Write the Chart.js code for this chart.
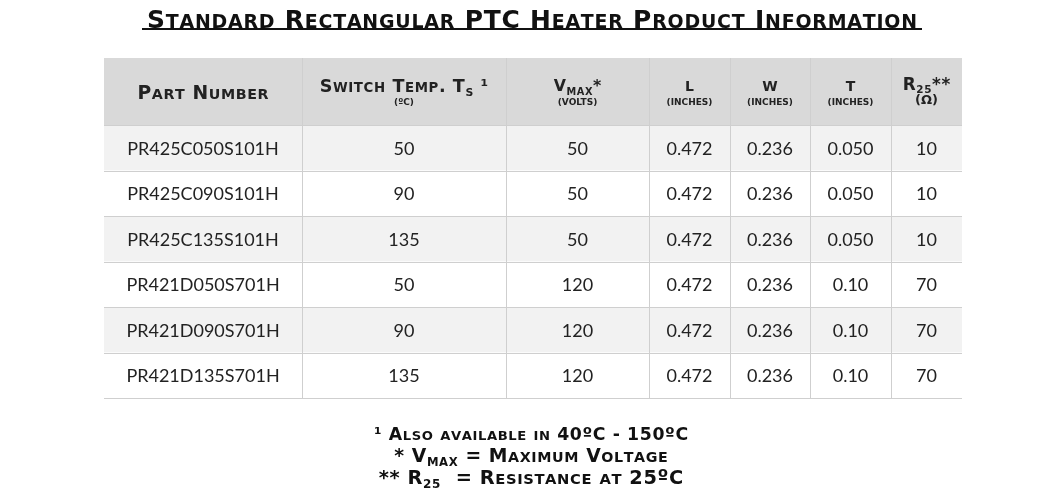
<!DOCTYPE html>
<html><head><meta charset="utf-8">
<script src="https://cdn.jsdelivr.net/npm/chart.js@4"></script>
<style>html,body{margin:0;padding:0;background:#fff}#c{display:block}</style>
</head><body>
<div style="width:1061px;height:495px"><canvas id="c"></canvas></div>
<script>
const partNumbers=["PR425C050S101H","PR425C090S101H","PR425C135S101H","PR421D050S701H","PR421D090S701H","PR421D135S701H"];
const switchTemp=["50","90","135","50","90","135"];
const vmax=["50","50","50","120","120","120"];
const lengthIn=["0.472","0.472","0.472","0.472","0.472","0.472"];
const widthIn=["0.236","0.236","0.236","0.236","0.236","0.236"];
const thickIn=["0.050","0.050","0.050","0.10","0.10","0.10"];
const r25=["10","10","10","70","70","70"];
const columns=[partNumbers,switchTemp,vmax,lengthIn,widthIn,thickIn,r25];
const colEdges=[0,198,402,545,626,706,787,858];
const title="Standard Rectangular PTC Heater Product Information";
const footnotes=[[["¹ Also available in 40ºC - 150ºC",0]],[["* V",0],["max",1],[" = Maximum Voltage",0]],[["** R",0],["25",1],["  = Resistance at 25ºC",0]]];
const SC="DejaVu Sans";
const BODY="Lato, 'Open Sans', sans-serif";

// fake small caps: split into runs of {text, size, dy}
function runs(segs,size){
  const out=[];
  segs.forEach(s=>{
    for(const ch of s[0]){
      const low=ch!==ch.toUpperCase();
      let sz=s[1]?size*0.62:(low?size*0.76:size);
      out.push({t:ch.toUpperCase(),sz,dy:s[1]?size*0.22:(low?size*0.12:0)});
    }
  });
  return out;
}
function measure(ctx,rs,sp){let w=0;rs.forEach(r=>{ctx.font=`bold ${r.sz}px ${SC}`;w+=ctx.measureText(r.t).width+sp;});return w-sp;}
function drawSC(ctx,segs,cx,y,size,target,sp=0.6){
  let rs=runs(segs,size);
  if(target){const w=measure(ctx,rs,sp);size=size*target/w;rs=runs(segs,size);}
  const w=measure(ctx,rs,sp);let x=cx-w/2;ctx.textAlign='left';ctx.textBaseline='alphabetic';
  const base=y+size*0.36;
  rs.forEach(r=>{ctx.font=`bold ${r.sz}px ${SC}`;ctx.fillText(r.t,x,base+(r.dy>size*0.15?r.dy-size*0.2+size*0.2:0));x+=ctx.measureText(r.t).width+sp;});
  return w;
}
const tablePlugin={id:'table',beforeDatasetsDraw(chart){
  const ctx=chart.ctx,xs=chart.scales.x,ys=chart.scales.y,ca=chart.chartArea;
  const rowH=ys.getPixelForValue(1)-ys.getPixelForValue(0);
  const X=colEdges.map(v=>xs.getPixelForValue(v));
  ctx.save();
  ctx.fillStyle='#111';
  drawSC(ctx,[[title,0]],532,19,20,780,0.8);
  ctx.fillRect(142,28,780,2);
  const hTop=58;
  ctx.fillStyle='#d9d9d9';ctx.fillRect(X[0],hTop,X[7]-X[0],ca.top-hTop);
  partNumbers.forEach((p,i)=>{
    const t=ys.getPixelForValue(i)-rowH/2;
    ctx.fillStyle=i%2===0?'#f2f2f2':'#ffffff';
    ctx.fillRect(X[0],t,X[7]-X[0],rowH);
    ctx.fillStyle='#222';ctx.font=`18px ${BODY}`;ctx.textAlign='center';ctx.textBaseline='middle';
    columns.forEach((col,c)=>ctx.fillText(col[i],(X[c]+X[c+1])/2,ys.getPixelForValue(i)+1));
  });
  ctx.strokeStyle='#cfcfcf';ctx.lineWidth=1;
  for(let i=0;i<=partNumbers.length;i++){const y=Math.round(ca.top+i*rowH)+0.5;ctx.beginPath();ctx.moveTo(X[0],y);ctx.lineTo(X[7],y);ctx.stroke();}
  X.slice(1,7).forEach(x=>{x=Math.round(x)+0.5;ctx.beginPath();ctx.moveTo(x,hTop);ctx.lineTo(x,ca.bottom);ctx.stroke();});
  ctx.fillStyle='#222';
  const hc=(hTop+ca.top)/2;
  const mid=c=>(X[c]+X[c+1])/2;
  drawSC(ctx,[["Part Number",0]],mid(0),hc+1,14,133);
  drawSC(ctx,[["Switch Temp. T",0],["s",1],[" ¹",0]],mid(1),hc-6,14,171);
  drawSC(ctx,[["V",0],["max",1],["*",0]],mid(2),hc-6,14,48);
  drawSC(ctx,[["L",0]],mid(3),hc-6,14);
  drawSC(ctx,[["W",0]],mid(4),hc-6,14);
  drawSC(ctx,[["T",0]],mid(5),hc-6,14);
  drawSC(ctx,[["R",0],["25",1],["**",0]],mid(6),hc-8,14,48);
  ctx.font=`bold 9px ${SC}`;ctx.textAlign='center';ctx.textBaseline='middle';
  ctx.fillText("(ºC)",mid(1),hc+11);
  ctx.fillText("(VOLTS)",mid(2),hc+11);
  [3,4,5].forEach(c=>ctx.fillText("(INCHES)",mid(c),hc+11));
  ctx.font=`bold 13px ${SC}`;ctx.fillText("(Ω)",mid(6),hc+9);
  ctx.fillStyle='#111';
  const fw=[316,276,308];
  footnotes.forEach((f,i)=>drawSC(ctx,f,531,434+i*21.5,16,fw[i]));
  ctx.restore();
}};
new Chart(document.getElementById('c'),{
  type:'bar',
  data:{labels:partNumbers,datasets:[{data:partNumbers.map(()=>[0,0]),backgroundColor:'rgba(0,0,0,0)'}]},
  options:{indexAxis:'y',responsive:true,maintainAspectRatio:false,animation:false,
    layout:{padding:{left:104,right:99,top:125,bottom:97}},
    plugins:{legend:{display:false},tooltip:{enabled:false}},
    scales:{x:{type:'linear',min:0,max:858,display:false},y:{display:false,offset:true}}},
  plugins:[tablePlugin]
});
</script></body></html>
